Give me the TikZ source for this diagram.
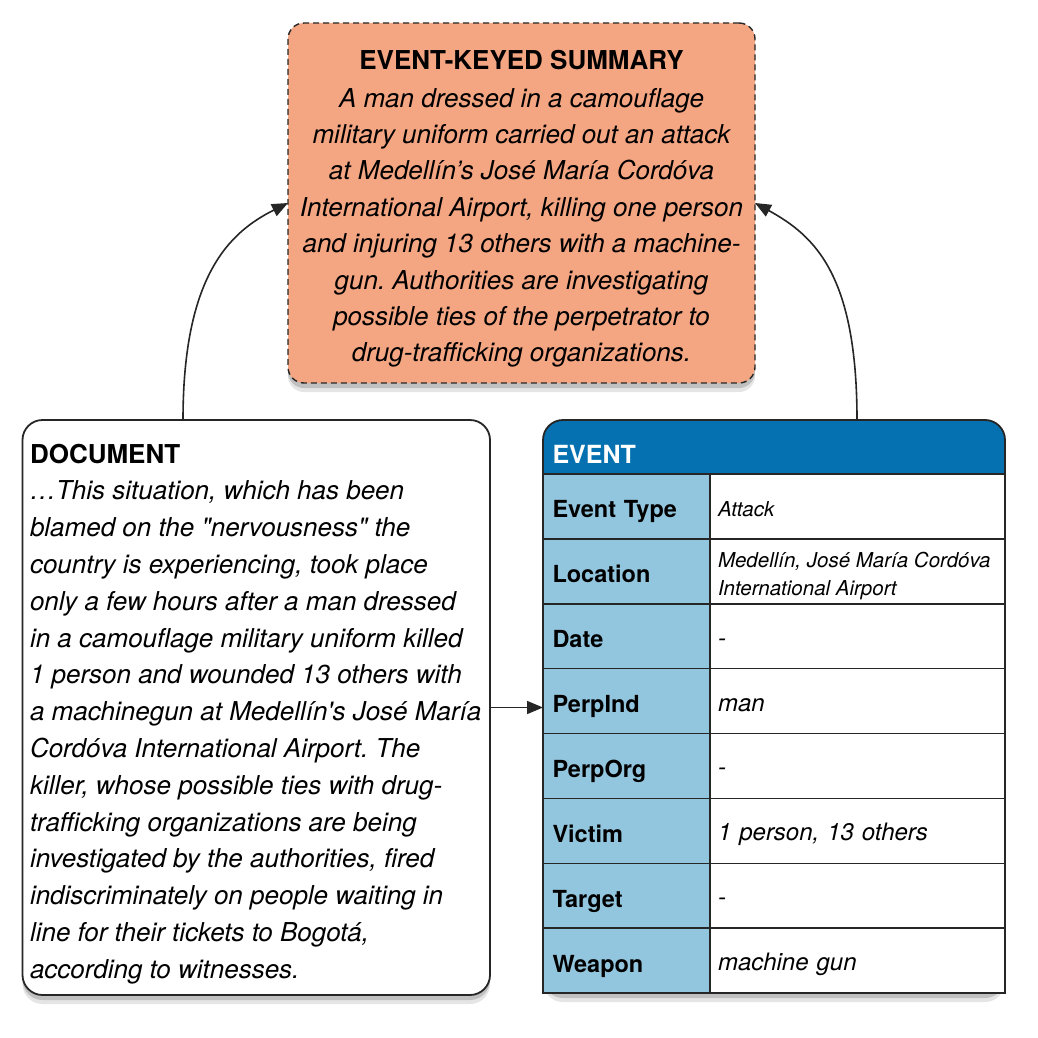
\documentclass[tikz,border=0pt]{standalone}
\usepackage{fontspec}
\newfontfamily\hel{TeX Gyre Heros}
\usetikzlibrary{arrows.meta,shadows}
\frenchspacing
\definecolor{salmonfill}{HTML}{F4A582}
\definecolor{evblue}{HTML}{0571B0}
\definecolor{lblue}{HTML}{92C5DE}
\definecolor{edgegray}{HTML}{262626}
\tikzset{
  softshadow/.style={
    general shadow={fill=black,opacity=0.10,shadow xshift=0pt,shadow yshift=-9pt},
    general shadow={fill=black,opacity=0.16,shadow xshift=0pt,shadow yshift=-5pt}},
  sumbox/.style={draw=edgegray, line width=1.4pt, dash pattern=on 6pt off 4pt,
    fill=salmonfill, rounded corners=16pt, minimum width=467pt, minimum height=360pt,
    inner sep=0pt, softshadow},
  docbox/.style={draw=edgegray, line width=1.8pt, fill=white, rounded corners=20pt,
    minimum width=467.5pt, minimum height=575pt, inner sep=0pt, softshadow},
  labcell/.style={draw=edgegray, line width=1.5pt, fill=lblue, anchor=north west,
    minimum width=167pt, minimum height=64.875pt, inner xsep=9.5pt, inner ysep=0pt,
    text width=148pt, align=left, text height=23pt, text depth=0pt,
    font=\hel\bfseries\fontsize{23.5}{28}\selectfont},
  valcell/.style={draw=edgegray, line width=1.5pt, fill=white, anchor=north west,
    minimum width=295pt, minimum height=64.875pt, inner xsep=8pt, inner ysep=0pt,
    text width=279pt, align=left, text height=20pt, text depth=0pt,
    font=\hel\itshape\fontsize{24}{28}\selectfont},
  smallval/.style={font=\hel\itshape\fontsize{20.5}{28}\selectfont},
  arr/.style={draw=black!85, line width=1.6pt, -{Triangle[length=16pt,width=13pt]}},
}
\begin{document}
\begin{tikzpicture}[x=1pt,y=-1pt, every node/.style={outer sep=0pt}]
\useasboundingbox (0,0) rectangle (1038,1038);
\fill[white] (0,0) rectangle (1038,1038);

% summary
\node[sumbox] (summary) at (521.5,203) {};
\node[anchor=north, inner sep=0pt, align=center,
      font=\hel\itshape\fontsize{26}{36.4}\selectfont] (sumtext) at (521.5,49)
{\rule{0pt}{20pt}{\upshape\bfseries EVENT-KEYED SUMMARY}\\[1.6pt]
A man dressed in a camouflage\\
military uniform carried out an attack\\
at Medellín’s José María Cordóva\\
International Airport, killing one person\\
and injuring 13 others with a machine-\\
gun. Authorities are investigating\\
possible ties of the perpetrator to\\
drug-trafficking organizations.};

% document
\node[docbox] (doc) at (256.25,707.5) {};
\node[anchor=north west, inner sep=0pt, align=left,
      font=\hel\itshape\fontsize{26}{36.8}\selectfont] (doctext) at (30,443)
{\rule{0pt}{20pt}{\upshape\bfseries DOCUMENT}\\
…This situation, which has been\\
blamed on the "nervousness" the\\
country is experiencing, took place\\
only a few hours after a man dressed\\
in a camouflage military uniform killed\\
1 person and wounded 13 others with\\
a machinegun at Medellín's José María\\
Cordóva International Airport. The\\
killer, whose possible ties with drug-\\
trafficking organizations are being\\
investigated by the authorities, fired\\
indiscriminately on people waiting in\\
line for their tickets to Bogotá,\\
according to witnesses.};

% event table
\node[anchor=north west, inner sep=0pt, minimum width=462pt, minimum height=573pt] (event) at (543,420) {};
\path[fill=white, softshadow, rounded corners=20pt] (543,420) rectangle (1005,993);
\begin{scope}
  \clip (543,420) rectangle (1005,474);
  \fill[evblue, rounded corners=20pt] (543,420) rectangle (1005,530);
\end{scope}
\node[anchor=base west, inner sep=0pt, text=white,
      font=\hel\bfseries\fontsize{25}{30}\selectfont] (evtitle) at (552.5,463) {EVENT};

\node[labcell] (lab1) at (543,474) {Event Type};
\node[labcell] (lab2) at (543,538.875) {Location};
\node[labcell] (lab3) at (543,603.75) {Date};
\node[labcell] (lab4) at (543,668.625) {PerpInd};
\node[labcell] (lab5) at (543,733.5) {PerpOrg};
\node[labcell] (lab6) at (543,798.375) {Victim};
\node[labcell] (lab7) at (543,863.25) {Target};
\node[labcell] (lab8) at (543,928.125) {Weapon};

\node[valcell, smallval] (val1) at (710,474) {Attack};
\node[valcell] (val2) at (710,538.875) {};
\node[anchor=north west, inner sep=0pt, align=left,
      font=\hel\itshape\fontsize{20.5}{28.3}\selectfont] (locval) at (718,551)
{\rule{0pt}{16pt}Medellín, José María Cordóva\\International Airport};
\node[valcell] (val3) at (710,603.75) {-};
\node[valcell] (val4) at (710,668.625) {man};
\node[valcell] (val5) at (710,733.5) {-};
\node[valcell] (val6) at (710,798.375) {1 person, 13 others};
\node[valcell] (val7) at (710,863.25) {-};
\node[valcell] (val8) at (710,928.125) {machine gun};

% table frame
\begin{scope}
  \clip (530,400) rectangle (1020,490);
  \draw[edgegray, line width=1.8pt, rounded corners=20pt] (543,420) rectangle (1005,993);
\end{scope}
\draw[edgegray, line width=1.8pt] (543,480) -- (543,993) -- (1005,993) -- (1005,480);

% connectors
\draw[arr] (doc.east) -- (doc.east -| event.west);
\draw[arr] ([xshift=-73.25pt]doc.north) .. controls (183,275) and (230,232) .. (summary.west);
\draw[arr] ([xshift=83pt]event.north) .. controls (857,275) and (815,236) .. (summary.east);
\end{tikzpicture}
\end{document}
